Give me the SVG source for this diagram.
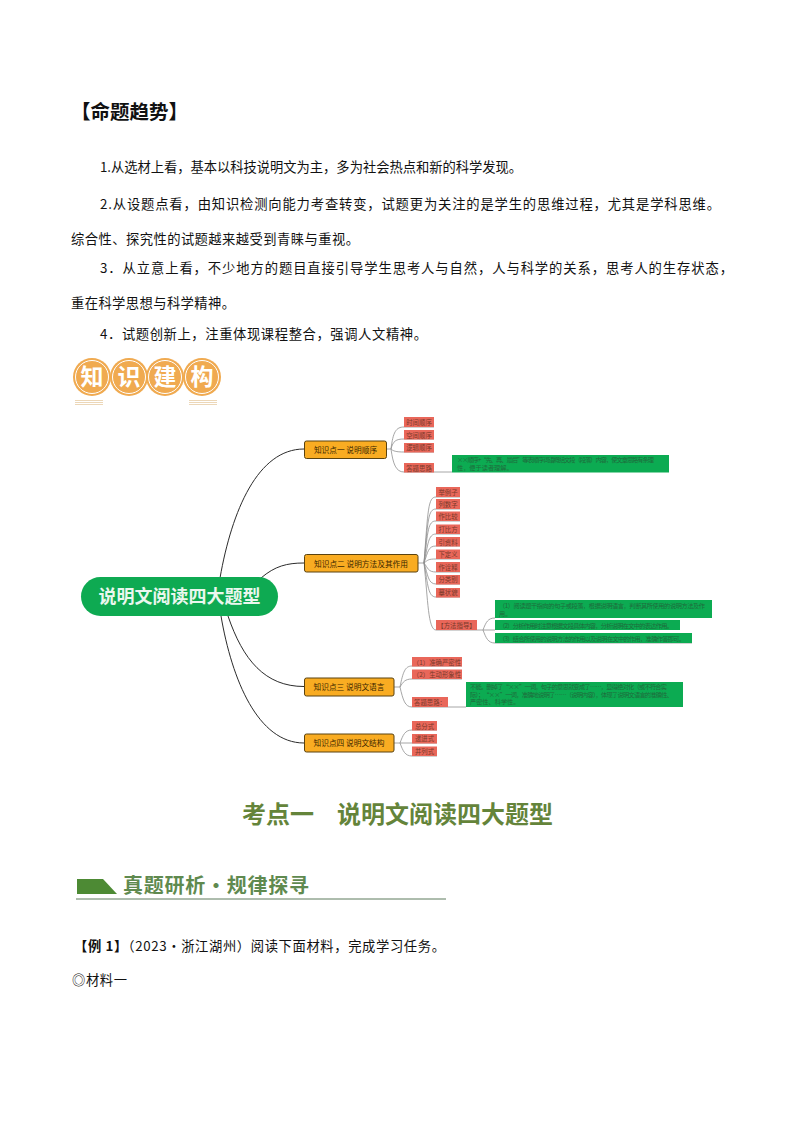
<svg xmlns="http://www.w3.org/2000/svg" width="794" height="1123" viewBox="0 0 794 1123">
<style>
text{font-family:"Noto Sans CJK SC","Noto Sans",sans-serif}
.b{font-size:13.3px;fill:#111}
.root{fill:#0eaa52}
.k{fill:#f9ac22;stroke:#5a4310;stroke-width:1}
.kt{font-size:7.7px;fill:#3a2600;text-anchor:middle}
.l{fill:#e9675a}
.lt{font-size:6.4px;fill:#7a3a2a;text-anchor:middle}
.g{fill:#0cab52}
.gt{font-size:6.2px;fill:#1f6b3c}
.c1{fill:none;stroke:#2b2b2b;stroke-width:1}
.c2{fill:none;stroke:#8f8f8f;stroke-width:.8}
.bc{fill:#f0aa50}
.br{fill:none;stroke:#fff;stroke-width:1}
.bt{font-size:23px;font-weight:700;fill:#fff;text-anchor:middle}
.bl{stroke:#ecd7b8;stroke-width:1}
</style>
<rect width="794" height="1123" fill="#fff"/>
<g id="page-text">
<text x="71" y="119" font-size="19.500" font-weight="700" fill="#111">【命题趋势】</text>
<text class="b" x="100" y="172" textLength="422">1.从选材上看，基本以科技说明文为主，多为社会热点和新的科学发现。</text>
<text class="b" x="100" y="209" textLength="620">2.从设题点看，由知识检测向能力考查转变，试题更为关注的是学生的思维过程，尤其是学科思维。</text>
<text class="b" x="71" y="244" textLength="288">综合性、探究性的试题越来越受到青睐与重视。</text>
<text class="b" x="100" y="273" textLength="633">3．从立意上看，不少地方的题目直接引导学生思考人与自然，人与科学的关系，思考人的生存状态，</text>
<text class="b" x="71" y="308" textLength="164">重在科学思想与科学精神。</text>
<text class="b" x="100" y="339" textLength="327">4．试题创新上，注重体现课程整合，强调人文精神。</text>
</g>
<g id="badge">
<circle class="bc" cx="92" cy="377" r="19"/><circle class="br" cx="92" cy="377" r="16.500"/><text class="bt" x="92" y="385">知</text>
<circle class="bc" cx="129" cy="377" r="19"/><circle class="br" cx="129" cy="377" r="16.500"/><text class="bt" x="129" y="385">识</text>
<circle class="bc" cx="165" cy="377" r="19"/><circle class="br" cx="165" cy="377" r="16.500"/><text class="bt" x="165" y="385">建</text>
<circle class="bc" cx="202" cy="377" r="19"/><circle class="br" cx="202" cy="377" r="16.500"/><text class="bt" x="202" y="385">构</text>
<path class="bl" d="M75 400.500H103M75 402.500H103M75 404.500H103M189 400.500H217M189 402.500H217M189 404.500H217"/>
</g>
<g id="connectors">
<path class="c1" d="M220 578C232 510 258 449 304 449"/>
<path class="c1" d="M261 578C275 566 287 563 304 563"/>
<path class="c1" d="M228 616C243 660 265 686.500 304 686.500"/>
<path class="c1" d="M221 616C232 680 258 743 304 743"/>
<path class="c2" d="M386 449H391M391 449C393 432 396 427 404 427H434M391 449C393 441 396 439 404 439H434M391 449C393 451 396 452 404 452H434M391 449C393 464 396 472 404 472H452"/>
<path class="c2" d="M418 563H424"/>
<path class="c2" d="M424 563C428 510 428 497 436 497H460M424 563C428 520 428 509 436 509H460M424 563C428 530 428 521 436 521H460M424 563C428 545 428 534 436 534H460M424 563C428 552 428 546 436 546H460M424 563C428 560 428 559 436 559H460M424 563C428 568 428 572 436 572H460M424 563C428 575 428 584 436 584H460M424 563C428 585 428 597 436 597H460M424 563C428 600 428 630 436 630H477"/>
<path class="c2" d="M477 630H483M483 630C486 622 488 618 495 618M483 630H495M483 630C486 638 488 643 495 643H692"/>
<path class="c2" d="M394 687H400M400 687C403 672 405 666 412 666H462M400 687C403 682 405 679 412 679H462M400 687C403 700 405 707 412 707H466"/>
<path class="c2" d="M394 743H400M400 743C403 735 405 730 412 730H437M400 743H437M400 743C403 751 405 756 412 756H437"/>
</g>
<g id="root"><rect class="root" x="81" y="577" width="197" height="39" rx="19.500"/><text x="179.500" y="603" font-size="18" font-weight="700" fill="#eaf7ee" text-anchor="middle">说明文阅读四大题型</text></g>
<g id="k1"><rect class="k" x="304.500" y="441" width="82" height="17.500" rx="2"/><text class="kt" x="345.500" y="453">知识点一 说明顺序</text></g>
<g id="k2"><rect class="k" x="304.500" y="554.500" width="113.500" height="17.500" rx="2"/><text class="kt" x="361" y="566.500">知识点二 说明方法及其作用</text></g>
<g id="k3"><rect class="k" x="304.500" y="678" width="89.500" height="18" rx="2"/><text class="kt" x="349" y="690">知识点三 说明文语言</text></g>
<g id="k4"><rect class="k" x="304.500" y="734" width="89.500" height="18" rx="2"/><text class="kt" x="349" y="746">知识点四 说明文结构</text></g>
<g id="l1-1"><rect class="l" x="404" y="417" width="30" height="10"/><text class="lt" x="419" y="424.500">时间顺序</text></g>
<g id="l1-2"><rect class="l" x="404" y="430" width="30" height="9.500"/><text class="lt" x="419" y="437.500">空间顺序</text></g>
<g id="l1-3"><rect class="l" x="404" y="443" width="30" height="9.500"/><text class="lt" x="419" y="450">逻辑顺序</text></g>
<g id="l1-4"><rect class="l" x="404" y="463" width="30" height="9.500"/><text class="lt" x="419" y="470.500">答题思路</text></g>
<g id="g1"><rect class="g" x="452" y="455" width="217" height="17.500"/><text class="gt" x="457" y="462" textLength="197">××顺序+“先、再、最后”等表顺序词语概括文段（段落）内容，使文章思路有条理</text><text class="gt" x="457" y="470">性，便于读者理解。</text></g>
<g id="l2-1"><rect class="l" x="436" y="487" width="24" height="10"/><text class="lt" x="448" y="494.500">举例子</text></g>
<g id="l2-2"><rect class="l" x="436" y="499" width="24" height="10"/><text class="lt" x="448" y="506.500">列数字</text></g>
<g id="l2-3"><rect class="l" x="436" y="511.500" width="24" height="9.500"/><text class="lt" x="448" y="519">作比较</text></g>
<g id="l2-4"><rect class="l" x="436" y="524.500" width="24" height="9.500"/><text class="lt" x="448" y="532">打比方</text></g>
<g id="l2-5"><rect class="l" x="436" y="537" width="24" height="9.500"/><text class="lt" x="448" y="544.500">引资料</text></g>
<g id="l2-6"><rect class="l" x="436" y="549.500" width="24" height="9.500"/><text class="lt" x="448" y="557">下定义</text></g>
<g id="l2-7"><rect class="l" x="436" y="562" width="24" height="10"/><text class="lt" x="448" y="569.500">作诠释</text></g>
<g id="l2-8"><rect class="l" x="436" y="575" width="24" height="9.500"/><text class="lt" x="448" y="582">分类别</text></g>
<g id="l2-9"><rect class="l" x="436" y="588" width="24" height="9.500"/><text class="lt" x="448" y="595">摹状貌</text></g>
<g id="l2-10"><rect class="l" x="436" y="620" width="41" height="10"/><text class="lt" x="456.500" y="627.500">【方法指导】</text></g>
<g id="g2-1"><rect class="g" x="495" y="600" width="217" height="18"/><text class="gt" x="499" y="607.500" textLength="206">（1）阅读题干指向的句子或段落，根据说明语言，判断其所使用的说明方法及作</text><text class="gt" x="499" y="615.500">用。</text></g>
<g id="g2-2"><rect class="g" x="495" y="620" width="185" height="10"/><text class="gt" x="499" y="627.500" textLength="174">（2）分析作用时注意根据文段具体内容，分析说明在文中的表达作用。</text></g>
<g id="g2-3"><rect class="g" x="495" y="633" width="197" height="10"/><text class="gt" x="499" y="640.500" textLength="186">（3）结合所使用的说明方法的作用以及说明在文中的作用，准确作答即可。</text></g>
<g id="l3-1"><rect class="l" x="412" y="657" width="50" height="9.500"/><text class="lt" x="437" y="664.500">（1）准确严密性</text></g>
<g id="l3-2"><rect class="l" x="412" y="669.500" width="50" height="9.500"/><text class="lt" x="437" y="677">（2）生动形象性</text></g>
<g id="l3-3"><rect class="l" x="412" y="697" width="36" height="10"/><text class="lt" x="430" y="704.500">答题思路：</text></g>
<g id="g3"><rect class="g" x="466" y="682" width="217" height="25"/><text class="gt" x="470" y="689" textLength="197">不能。删掉了“××”一词，句子的意思就变成了……，显得绝对化（或不符合实</text><text class="gt" x="470" y="696.500" textLength="203">际）；“××”一词，准确地说明了……（说明内容），体现了说明文语言的准确性、</text><text class="gt" x="470" y="704">严密性、科学性。</text></g>
<g id="l4-1"><rect class="l" x="412" y="721" width="25" height="9.500"/><text class="lt" x="424.500" y="728.500">总分式</text></g>
<g id="l4-2"><rect class="l" x="412" y="734" width="25" height="9.500"/><text class="lt" x="424.500" y="741">递进式</text></g>
<g id="l4-3"><rect class="l" x="412" y="746.500" width="25" height="9.500"/><text class="lt" x="424.500" y="754">并列式</text></g>
<g id="heading">
<text x="242" y="823" font-size="24" font-weight="700" fill="#64843a">考点一</text>
<text x="337" y="823" font-size="24" font-weight="700" fill="#64843a">说明文阅读四大题型</text>
</g>
<g id="banner">
<path d="M77 879H103L117 894H77Z" fill="#4d8a34"/>
<text x="123" y="893" font-size="20" font-weight="700" fill="#5f8a4f" textLength="186">真题研析·规律探寻</text>
<path d="M76 899H446" stroke="#5d7a5d" stroke-width="1"/>
</g>
<g id="example">
<text class="b" x="74" y="951" textLength="371"><tspan font-weight="700">【例 1】</tspan>（2023·浙江湖州）阅读下面材料，完成学习任务。</text>
<text class="b" x="72" y="985" textLength="55">◎材料一</text>
</g>
</svg>
